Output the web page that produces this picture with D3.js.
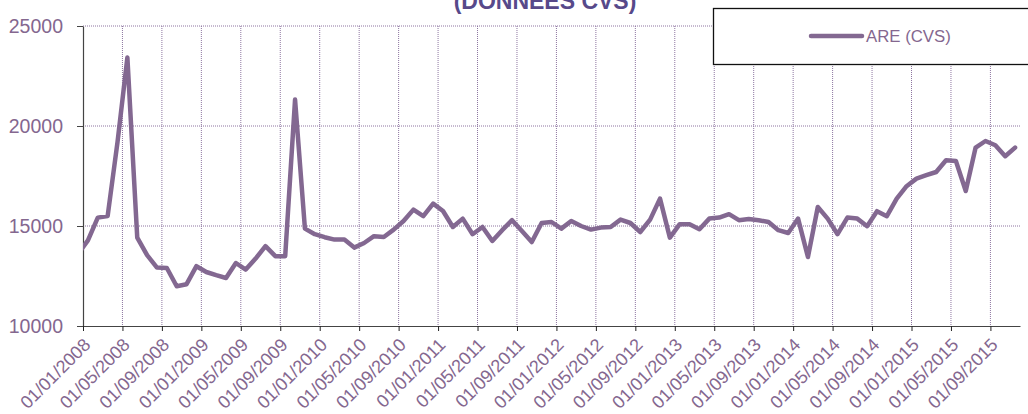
<!DOCTYPE html>
<html>
<head>
<meta charset="utf-8">
<script src="https://cdn.jsdelivr.net/npm/d3@7"></script>
<style>
  html, body { margin: 0; padding: 0; background: #fff; }
  svg { display: block; font-family: "Liberation Sans", Arial, sans-serif; }
</style>
</head>
<body>
<svg id="chart" width="1028" height="414"></svg>
<script>
// ---- data ----
const title = "(DONNEES CVS)";
const seriesName = "ARE (CVS)";

const months = [
  "2007-12",
  "2008-01","2008-02","2008-03","2008-04","2008-05","2008-06","2008-07","2008-08","2008-09","2008-10","2008-11","2008-12",
  "2009-01","2009-02","2009-03","2009-04","2009-05","2009-06","2009-07","2009-08","2009-09","2009-10","2009-11","2009-12",
  "2010-01","2010-02","2010-03","2010-04","2010-05","2010-06","2010-07","2010-08","2010-09","2010-10","2010-11","2010-12",
  "2011-01","2011-02","2011-03","2011-04","2011-05","2011-06","2011-07","2011-08","2011-09","2011-10","2011-11","2011-12",
  "2012-01","2012-02","2012-03","2012-04","2012-05","2012-06","2012-07","2012-08","2012-09","2012-10","2012-11","2012-12",
  "2013-01","2013-02","2013-03","2013-04","2013-05","2013-06","2013-07","2013-08","2013-09","2013-10","2013-11","2013-12",
  "2014-01","2014-02","2014-03","2014-04","2014-05","2014-06","2014-07","2014-08","2014-09","2014-10","2014-11","2014-12",
  "2015-01","2015-02","2015-03","2015-04","2015-05","2015-06","2015-07","2015-08","2015-09","2015-10","2015-11"
];

const values = [
  13600,
  14280, 15420, 15500, 19200, 23420, 14420, 13540, 12920, 12900, 11990, 12090, 12990,
  12700, 12540, 12400, 13150, 12820, 13370, 13990, 13490, 13490, 21320, 14870, 14590,
  14440, 14320, 14320, 13920, 14150, 14490, 14450, 14820, 15250, 15820, 15490, 16120,
  15750, 14950, 15370, 14590, 14950, 14250, 14790, 15290, 14750, 14200, 15150, 15200,
  14870, 15250, 15000, 14820, 14920, 14950, 15320, 15150, 14700, 15320, 16370, 14420,
  15090, 15090, 14840, 15370, 15420, 15590, 15290, 15350, 15290, 15200, 14790, 14650,
  15370, 13450, 15950, 15370, 14590, 15420, 15370, 14990, 15740, 15490, 16370, 16990,
  17370, 17540, 17700, 18290, 18250, 16750, 18920, 19250, 19040, 18490, 18920
];

const xTickLabels = [
  "01/01/2008","01/05/2008","01/09/2008","01/01/2009","01/05/2009","01/09/2009",
  "01/01/2010","01/05/2010","01/09/2010","01/01/2011","01/05/2011","01/09/2011",
  "01/01/2012","01/05/2012","01/09/2012","01/01/2013","01/05/2013","01/09/2013",
  "01/01/2014","01/05/2014","01/09/2014","01/01/2015","01/05/2015","01/09/2015"
];
const yTicks = [10000, 15000, 20000, 25000];
const xDomain = ["01/01/2008", "01/12/2015"];

// ---- helpers ----
const baseYear = 2008;
const monthIndexFromYM = s => { const [y, m] = s.split("-").map(Number); return (y - baseYear) * 12 + (m - 1); };
const monthIndexFromDMY = s => { const [d, m, y] = s.split("/").map(Number); return (y - baseYear) * 12 + (m - 1); };

const data = months.map((m, i) => ({ t: monthIndexFromYM(m) + 0.5, v: values[i] }));

// ---- layout ----
const svg = d3.select("#chart");
const plot = { left: 83, right: 1020, top: 26, bottom: 326 };
const purple = "#836891";
const labelColor = "#84678f";
const gridColor = "#8d75a0";

const x = d3.scaleLinear()
  .domain([monthIndexFromDMY(xDomain[0]), monthIndexFromDMY(xDomain[1])])
  .range([plot.left, plot.right]);
const y = d3.scaleLinear().domain([10000, 25000]).range([plot.bottom, plot.top]);

const xTickVals = xTickLabels.map(monthIndexFromDMY);
const labelByTick = new Map(xTickVals.map((v, i) => [v, xTickLabels[i]]));

// gridlines
const grid = svg.append("g");
grid.selectAll("line.h").data(yTicks.filter(d => d > 10000)).join("line")
  .attr("x1", plot.left).attr("x2", plot.right)
  .attr("y1", d => y(d)).attr("y2", d => y(d))
  .attr("stroke", gridColor).attr("stroke-width", 1).attr("stroke-dasharray", "1,1");
grid.selectAll("line.v").data(xTickVals.filter(d => d > 0)).join("line")
  .attr("x1", d => x(d)).attr("x2", d => x(d))
  .attr("y1", plot.top).attr("y2", plot.bottom)
  .attr("stroke", gridColor).attr("stroke-width", 1).attr("stroke-dasharray", "1,1");

// axes
const yAxis = svg.append("g")
  .attr("transform", `translate(${plot.left},0)`)
  .call(d3.axisLeft(y).tickValues(yTicks).tickSize(6).tickSizeOuter(0).tickFormat(d3.format("d")));
yAxis.select(".domain").attr("stroke", "#444").attr("stroke-width", 1.2);
yAxis.selectAll(".tick line").attr("stroke", "#444");
yAxis.selectAll(".tick text")
  .attr("x", -20).attr("fill", labelColor)
  .style("font-size", "19.5px").style("font-family", "'Liberation Sans', Arial, sans-serif");

const xAxis = svg.append("g")
  .attr("transform", `translate(0,${plot.bottom})`)
  .call(d3.axisBottom(x).tickValues(xTickVals).tickSize(5).tickSizeOuter(0).tickFormat(d => labelByTick.get(d)));
xAxis.select(".domain").attr("stroke", "#444").attr("stroke-width", 1.2);
xAxis.selectAll(".tick line").attr("stroke", "#222");
xAxis.selectAll(".tick text")
  .attr("fill", labelColor)
  .attr("text-anchor", "end")
  .attr("dy", null).attr("y", null)
  .attr("transform", "translate(8,20) rotate(-45)")
  .style("font-size", "18px").style("font-family", "'Liberation Sans', Arial, sans-serif");

// line
svg.append("clipPath").attr("id", "clip").append("rect")
  .attr("x", plot.left).attr("y", 0)
  .attr("width", plot.right - plot.left).attr("height", plot.bottom);

svg.append("path")
  .datum(data)
  .attr("clip-path", "url(#clip)")
  .attr("fill", "none")
  .attr("stroke", purple)
  .attr("stroke-width", 4.5)
  .attr("stroke-linejoin", "round")
  .attr("stroke-linecap", "round")
  .attr("d", d3.line().x(d => x(d.t)).y(d => y(d.v)));

// title (partly cut off at the top edge, as in the original)
svg.append("text")
  .attr("x", 545).attr("y", 9)
  .attr("text-anchor", "middle")
  .attr("fill", "#57498a")
  .style("font-size", "23px").style("font-weight", "bold")
  .text(title);

// legend
const lg = svg.append("g");
lg.append("rect").attr("x", 713.5).attr("y", 8.5).attr("width", 330).attr("height", 56)
  .attr("fill", "#fff").attr("stroke", "#111").attr("stroke-width", 1.3);
lg.append("line").attr("x1", 811).attr("x2", 862).attr("y1", 36).attr("y2", 36)
  .attr("stroke", purple).attr("stroke-width", 4.5).attr("stroke-linecap", "round");
lg.append("text").attr("x", 866).attr("y", 42)
  .attr("fill", labelColor).style("font-size", "16.8px")
  .text(seriesName);
</script>
</body>
</html>
